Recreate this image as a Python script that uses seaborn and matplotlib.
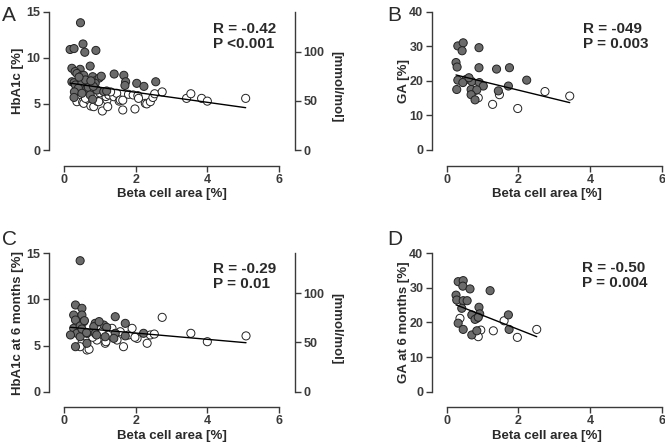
import matplotlib
matplotlib.use("Agg")
import matplotlib.pyplot as plt
import pandas as pd
import seaborn as sns

# ---- panel A: HbA1c vs beta cell area ----
a_filled_x = [0.46, 0.17, 0.28, 0.53, 0.58, 0.89, 0.73, 0.45, 0.22, 0.31, 0.36, 0.50,
              0.55, 0.80, 0.87, 0.98, 1.04, 1.40, 1.67, 1.72, 1.70, 2.03, 2.23, 2.56,
              0.22, 0.28, 0.32, 0.50, 0.64, 0.87, 0.92, 0.40, 0.68, 0.82, 1.11, 1.19,
              0.29, 0.50, 0.73, 0.28, 0.80, 0.60, 0.42, 0.75]
a_filled_y = [13.8, 10.9, 11.0, 11.5, 10.6, 10.8, 9.1, 8.75, 8.86, 8.5, 8.3, 8.1,
              8.1, 7.95, 7.5, 7.8, 8.0, 8.24, 8.1, 7.4, 7.0, 7.23, 6.9, 7.4,
              7.4, 7.3, 7.05, 7.23, 6.7, 7.23, 6.5, 6.7, 6.8, 6.9, 6.33, 6.4,
              6.3, 6.15, 5.97, 5.7, 5.5, 7.6, 7.9, 7.5]
a_open_x = [0.36, 0.52, 0.55, 0.69, 0.75, 0.83, 0.93, 0.97, 1.07, 1.20, 1.22, 1.17, 1.25,
            1.39, 1.47, 1.54, 1.57, 1.64, 1.64, 1.80, 1.93, 1.98, 2.06, 2.08, 2.27, 2.31,
            2.41, 2.48, 2.53, 2.74, 3.42, 3.54, 3.84, 4.00, 5.07, 0.60, 0.85, 1.00, 1.30]
a_open_y = [5.24, 5.2, 5.06, 5.42, 4.77, 4.7, 5.28, 5.24, 4.23, 5.42, 4.7, 5.8, 5.97,
            5.78, 6.15, 5.3, 5.42, 4.34, 5.4, 6.04, 5.97, 4.45, 5.9, 5.6, 5.06, 5.0,
            5.24, 5.7, 6.1, 6.3, 5.6, 6.1, 5.6, 5.3, 5.6, 5.6, 6.0, 6.2, 6.3]
a_fit_x = [0.17, 5.07]
a_fit_y = [7.25, 4.59]

# ---- panel B: GA vs beta cell area ----
b_filled_x = [0.31, 0.46, 0.43, 0.90, 0.26, 0.29, 0.90, 1.39, 1.75, 2.23, 0.31, 0.54,
              0.70, 0.91, 0.45, 1.02, 0.28, 0.68, 0.84, 0.68, 0.79, 1.44, 1.72, 0.62]
b_filled_y = [30.1, 31.0, 28.7, 29.6, 25.3, 24.0, 23.8, 23.4, 23.8, 20.2, 20.2, 20.4,
              19.8, 19.5, 19.5, 18.5, 17.5, 17.5, 17.4, 16.0, 14.5, 17.1, 18.5, 20.9]
b_open_x = [0.88, 1.28, 1.47, 1.98, 2.74, 3.43]
b_open_y = [15.1, 13.2, 16.0, 12.0, 16.9, 15.6]
b_fit_x = [0.26, 3.43]
b_fit_y = [21.7, 13.7]

# ---- panel C: HbA1c at 6 months vs beta cell area ----
c_filled_x = [0.45, 0.32, 0.50, 0.27, 0.50, 0.32, 0.55, 0.87, 1.11, 1.43, 1.71, 0.27,
              0.83, 0.36, 0.64, 0.87, 1.15, 1.43, 1.71, 2.22, 0.18, 0.45, 1.39, 0.64,
              0.32, 0.45, 0.98, 0.57, 1.19, 0.50, 0.91, 0.63]
c_filled_y = [14.2, 9.4, 9.04, 8.31, 8.31, 7.77, 7.59, 7.41, 7.23, 8.13, 7.41, 6.87,
              7.05, 6.33, 6.33, 6.33, 5.96, 6.33, 6.05, 6.33, 6.15, 5.96, 5.78, 5.25,
              4.88, 7.12, 7.6, 7.7, 6.98, 6.8, 6.15, 6.4]
c_open_x = [0.50, 0.64, 0.92, 1.06, 1.15, 1.34, 1.48, 1.57, 1.66, 1.80, 1.90, 2.04,
            2.32, 2.41, 2.52, 2.74, 3.54, 4.00, 5.08, 1.98, 1.17, 0.45, 0.70, 0.80]
c_open_y = [5.25, 4.52, 5.6, 6.5, 5.25, 6.87, 5.6, 6.5, 4.88, 6.15, 6.87, 5.78,
            5.25, 6.15, 6.25, 8.06, 6.33, 5.42, 6.05, 5.9, 5.42, 4.88, 4.6, 5.9]
c_fit_x = [0.18, 5.08]
c_fit_y = [6.98, 5.31]

# ---- panel D: GA at 6 months vs beta cell area ----
d_filled_x = [0.32, 0.46, 0.45, 0.65, 1.21, 0.26, 0.28, 0.46, 0.57, 0.42, 0.90, 0.70,
              0.84, 0.92, 1.72, 0.32, 0.46, 0.70, 0.84, 1.74, 0.79, 0.88]
d_filled_y = [31.8, 32.1, 30.5, 29.7, 29.2, 27.9, 26.5, 26.3, 26.3, 24.1, 24.4, 22.2,
              21.2, 22.5, 22.2, 19.8, 18.0, 16.4, 17.6, 18.0, 20.9, 21.5]
d_open_x = [0.37, 0.95, 0.88, 1.30, 1.60, 1.97, 2.51]
d_open_y = [21.2, 17.8, 15.9, 17.6, 20.5, 15.7, 18.0]
d_fit_x = [0.26, 2.51]
d_fit_y = [25.1, 15.9]

W, H = 665, 443
GREY = "#6b6b6b"
INK = "#2a2a2a"

sns.set_theme(style="ticks")
plt.rcParams['font.family'] = ['Liberation Sans', 'DejaVu Sans']
plt.rcParams['axes.edgecolor'] = "#3a3a3a"
plt.rcParams['axes.linewidth'] = 1.0
plt.rcParams['xtick.color'] = "#3a3a3a"
plt.rcParams['ytick.color'] = "#3a3a3a"
plt.rcParams['text.color'] = INK
plt.rcParams['axes.labelcolor'] = INK


def px_box(left, top, right, bottom):
    # pixel box -> figure fraction rect
    return [left / W, 1 - bottom / H, (right - left) / W, (bottom - top) / H]


def draw_panel(ax, ox, oy, fx, fy, fit_x, fit_y, ylab, ymax, ystep, xlim, ylim, lab_x):
    df = pd.DataFrame({
        "x": list(ox) + list(fx),
        "y": list(oy) + list(fy),
        "grp": ["open"] * len(ox) + ["filled"] * len(fx),
    })
    sns.scatterplot(data=df, x="x", y="y", hue="grp",
                    palette={"open": "white", "filled": GREY},
                    edgecolor="#222222", linewidth=0.7, s=34, legend=False, ax=ax,
                    zorder=3)
    sns.lineplot(x=fit_x, y=fit_y, color="black", linewidth=1.0, ax=ax, zorder=4)
    ax.set_xlim(*xlim)
    ax.set_ylim(*ylim)
    ax.set_xticks([0, 2, 4, 6])
    ax.set_yticks(list(range(0, ymax + 1, ystep)))
    ax.spines['bottom'].set_bounds(0, 6)
    ax.spines['left'].set_bounds(0, ymax)
    ax.spines['top'].set_visible(False)
    ax.spines['right'].set_visible(False)
    ax.tick_params(length=4, width=1.0, pad=2, labelsize=9)
    ax.tick_params(axis="x", pad=1.5)
    for lab in ax.get_xticklabels() + ax.get_yticklabels():
        lab.set_fontweight("bold")
    ax.set_xlabel("Beta cell area [%]", fontsize=9.5, fontweight="bold", labelpad=2)
    ax.set_ylabel(ylab, fontsize=9.5, fontweight="bold")
    # centre the y label on the drawn spine rather than on the whole axes
    ax.yaxis.set_label_coords(lab_x, (ymax / 2 - ylim[0]) / (ylim[1] - ylim[0]))


def add_mmol(ax, ylim, ratio=9.37):
    ax2 = ax.twinx()
    ax2.set_ylim(ylim[0] * ratio, ylim[1] * ratio)
    ax2.set_yticks([0, 50, 100])
    ax2.spines['right'].set_bounds(0, 15 * ratio)
    for s in ['top', 'left', 'bottom']:
        ax2.spines[s].set_visible(False)
    ax2.tick_params(length=4, width=1.0, pad=2, labelsize=9)
    for lab in ax2.get_yticklabels():
        lab.set_fontweight("bold")
    ax2.set_ylabel("[mmol/mol]", rotation=270, va="bottom",
                   fontsize=9.5, fontweight="bold", labelpad=4)


fig = plt.figure(figsize=(W / 100, H / 100), dpi=100)

ax_a = fig.add_axes(px_box(49, 8, 295, 166))
lim_a = (-1.735, 15.40)
draw_panel(ax_a, a_open_x, a_open_y, a_filled_x, a_filled_y, a_fit_x, a_fit_y,
           "HbA1c [%]", 15, 5, (-0.419, 6.447), lim_a, -0.102)
add_mmol(ax_a, lim_a)

ax_b = fig.add_axes(px_box(431.7, 8, 663, 166))
draw_panel(ax_b, b_open_x, b_open_y, b_filled_x, b_filled_y, b_fit_x, b_fit_y,
           "GA [%]", 40, 10, (-0.418, 6.03), (-4.63, 41.07), -0.094)

ax_c = fig.add_axes(px_box(49, 250, 295, 407.3))
lim_c = (-1.69, 15.36)
draw_panel(ax_c, c_open_x, c_open_y, c_filled_x, c_filled_y, c_fit_x, c_fit_y,
           "HbA1c at 6 months [%]", 15, 5, (-0.419, 6.447), lim_c, -0.102)
add_mmol(ax_c, lim_c)

ax_d = fig.add_axes(px_box(431.7, 250, 663, 407.3))
draw_panel(ax_d, d_open_x, d_open_y, d_filled_x, d_filled_y, d_fit_x, d_fit_y,
           "GA at 6 months [%]", 40, 10, (-0.418, 6.03), (-4.51, 40.95), -0.094)

# panel letters
for letter, (lx, ly) in zip("ABCD", [(2, 6), (387, 6), (2, 230), (387, 230)]):
    fig.text(lx / W, 1 - ly / H, letter, fontsize=15, va="top", ha="left", color=INK)

# statistics
stats = [("R = -0.42\nP <0.001", 213, 22), ("R = -049\nP = 0.003", 583, 22),
         ("R = -0.29\nP = 0.01", 213, 262), ("R = -0.50\nP = 0.004", 582, 261)]
for txt, tx, ty in stats:
    fig.text(tx / W, 1 - ty / H, txt, fontsize=11, fontweight="bold",
             va="top", ha="left", linespacing=1.1, color=INK)

fig.savefig("out.png", dpi=100)
